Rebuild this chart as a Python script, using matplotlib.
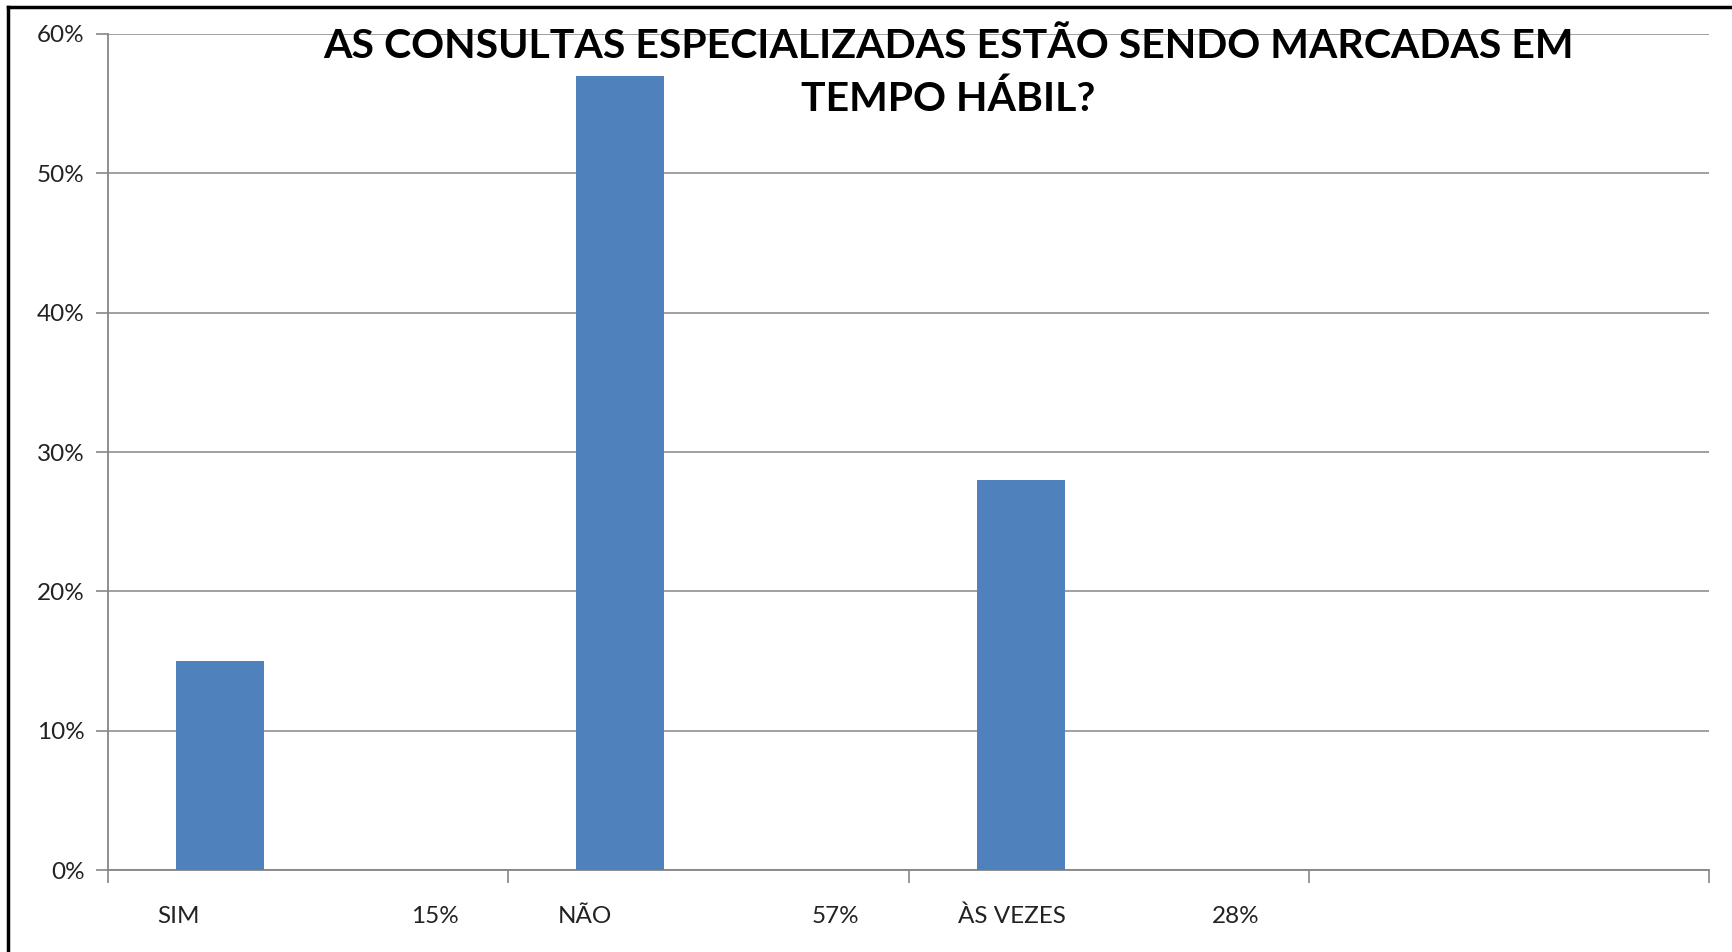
import matplotlib

matplotlib.use("Agg")
import matplotlib.pyplot as plt
from matplotlib.lines import Line2D
from matplotlib.ticker import FuncFormatter

# chart data
categories = ["SIM", "NÃO", "ÀS VEZES"]
values = [0.15, 0.57, 0.28]
value_labels = ["15%", "57%", "28%"]
y_ticks = [0.0, 0.1, 0.2, 0.3, 0.4, 0.5, 0.6]
title = "AS CONSULTAS ESPECIALIZADAS ESTÃO SENDO MARCADAS EM\nTEMPO HÁBIL?"

n_slots = 4
bar_color = "#4F81BD"
grid_color = "#868686"
font_main = ["Lato", "Liberation Sans", "DejaVu Sans"]

fig = plt.figure(figsize=(17.32, 9.52), dpi=100)
ax = fig.add_axes([0.0624, 0.0861, 0.9243, 0.8782])

# bars sit at the left part of each category slot
positions = [i + 0.28 for i in range(len(categories))]
ax.bar(positions, values, width=0.22, color=bar_color, zorder=3)

ax.set_xlim(0, n_slots)
ax.set_ylim(0, 0.6)
ax.set_yticks(y_ticks)
ax.yaxis.set_major_formatter(FuncFormatter(lambda v, _: f"{v * 100:.0f}%"))
ax.set_xticks(range(n_slots + 1))
ax.set_xticklabels([])

ax.grid(axis="y", color=grid_color, linewidth=1.1, zorder=0)
for side in ["top", "right"]:
    ax.spines[side].set_visible(False)
for side in ["left", "bottom"]:
    ax.spines[side].set_color(grid_color)
    ax.spines[side].set_linewidth(1.3)

ax.tick_params(axis="both", color=grid_color, width=1.2, length=9, direction="out")
ax.tick_params(axis="y", labelsize=17.5, pad=8, labelcolor="#222222")
for lbl in ax.get_yticklabels():
    lbl.set_family(font_main)

# category names and percentages under the axis
for i, (cat, pct) in enumerate(zip(categories, value_labels)):
    ax.text(i + 0.123, -0.0335, cat, ha="left", va="center", fontsize=17.5,
            color="#222222", family=font_main)
    ax.text(i + 0.757, -0.0335, pct, ha="left", va="center", fontsize=17.5,
            color="#222222", family=font_main)

fig.text(0.5475, 0.923, title, ha="center", va="center", fontsize=29.5,
         fontweight="bold", family=font_main, linespacing=1.5, color="black")

# black frame on the left and top edges
fig.add_artist(Line2D([0.0045, 0.0045], [0, 0.9925], color="black", linewidth=2.5,
                      transform=fig.transFigure))
fig.add_artist(Line2D([0.0045, 1.0], [0.9925, 0.9925], color="black", linewidth=2.5,
                      transform=fig.transFigure))

fig.savefig("out.png", dpi=100, facecolor="white")
